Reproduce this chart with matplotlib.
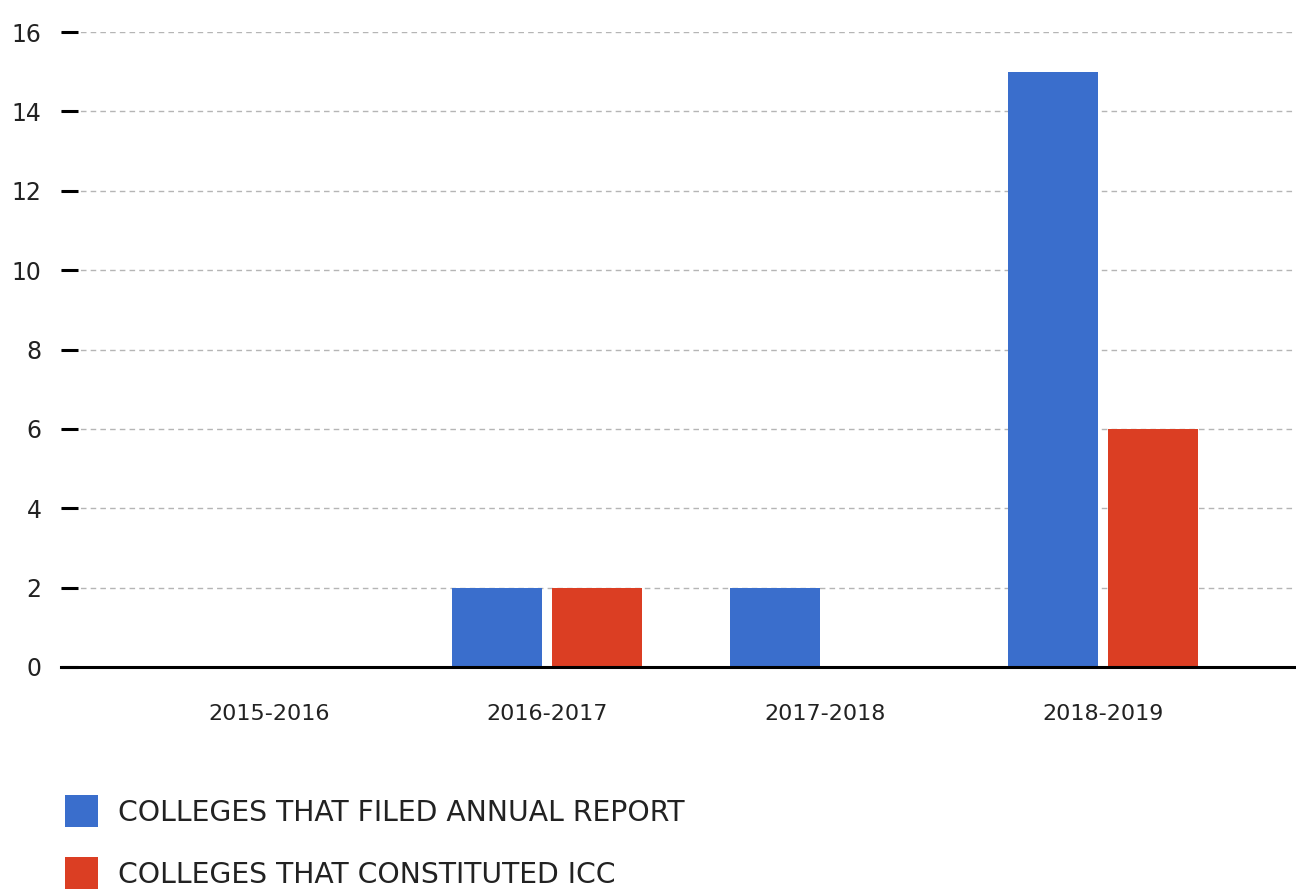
import matplotlib
matplotlib.use("Agg")
import matplotlib.pyplot as plt
import numpy as np
from matplotlib.patches import Patch

plt.rcParams['font.family'] = ['DejaVu Sans']

seasons = ['2015-2016', '2016-2017', '2017-2018', '2018-2019']
annual_report = [0, 2, 2, 15]
constituted_icc = [0, 2, 0, 6]

blue = '#3A6ECC'
red = '#DB3E23'

fig = plt.figure(figsize=(12.96, 8.89), dpi=100)
ax = fig.add_axes([61 / 1296, 1 - 667 / 889, 1 - 61 / 1296, (667 - 32) / 889])

index = np.arange(len(seasons))
bar_width = 0.324
offset = 0.18

ax.bar(index - offset, annual_report, bar_width, color=blue, zorder=3)
ax.bar(index + offset, constituted_icc, bar_width, color=red, zorder=3)

ax.set_ylim(0, 16)
ax.set_xlim(-0.748, 3.694)
ax.set_yticks(np.arange(0, 17, 2))
ax.set_xticks(index)
ax.set_xticklabels(seasons)

ax.yaxis.grid(True, color='#b5b5b5', linestyle=(0, (4, 3)), linewidth=1, zorder=0)
ax.set_axisbelow(True)

for s in ['top', 'right', 'left']:
    ax.spines[s].set_visible(False)
ax.spines['bottom'].set_color('black')
ax.spines['bottom'].set_linewidth(2.2)
ax.spines['bottom'].set_zorder(4)

ax.tick_params(axis='y', direction='in', length=12.5, width=2.2, color='black',
               pad=14, labelsize=17, labelcolor='#222222')
ax.tick_params(axis='x', length=0, pad=27, labelsize=16, labelcolor='#222222')

handles = [Patch(facecolor=blue, label='COLLEGES THAT FILED ANNUAL REPORT'),
           Patch(facecolor=red, label='COLLEGES THAT CONSTITUTED ICC')]
fig.legend(handles=handles, loc='upper left', bbox_to_anchor=(57 / 1296, 1 - 787 / 889),
           frameon=False, fontsize=20.3, handlelength=1.15, handleheight=1.35,
           handletextpad=0.72, labelspacing=1.07, labelcolor='#222222',
           borderaxespad=0, borderpad=0.3)

plt.savefig("out.png", dpi=100)
